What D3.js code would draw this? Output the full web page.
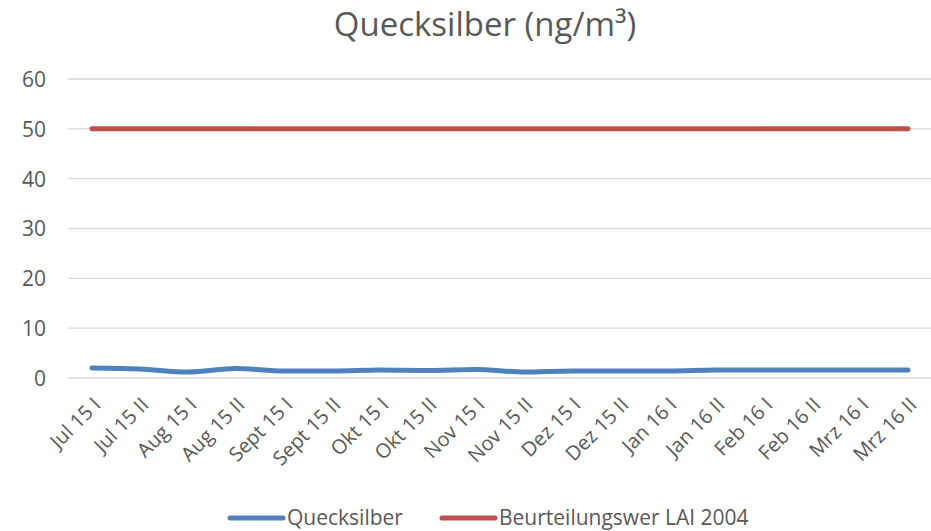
<!DOCTYPE html>
<html>
<head>
<meta charset="utf-8">
<script src="https://cdn.jsdelivr.net/npm/d3@7"></script>
<style>
  body { margin: 0; background: #fff; }
  svg text { font-family: "Open Sans", "Liberation Sans", sans-serif; fill: #595959; }
</style>
</head>
<body>
<script>
// chart data
const categories = ['Jul 15 I', 'Jul 15 II', 'Aug 15 I', 'Aug 15 II', 'Sept 15 I', 'Sept 15 II',
  'Okt 15 I', 'Okt 15 II', 'Nov 15 I', 'Nov 15 II', 'Dez 15 I', 'Dez 15 II',
  'Jan 16 I', 'Jan 16 II', 'Feb 16 I', 'Feb 16 II', 'Mrz 16 I', 'Mrz 16 II'];
const quecksilber = [2.0, 1.8, 1.2, 1.9, 1.4, 1.4, 1.6, 1.5, 1.7, 1.2, 1.4, 1.4, 1.4, 1.6, 1.6, 1.6, 1.6, 1.6];
const beurteilungswert = [50, 50, 50, 50, 50, 50, 50, 50, 50, 50, 50, 50, 50, 50, 50, 50, 50, 50];
const yTicks = [0, 10, 20, 30, 40, 50, 60];
const seriesNames = ['Quecksilber', 'Beurteilungswer LAI 2004'];
const title = 'Quecksilber (ng/m³)';

const w = 931;
const h = 531;
const plotLeft = 68, plotRight = 932, plotTop = 79, plotBottom = 378;

const svg = d3.select('body')
              .append('svg')
              .attr('width', w)
              .attr('height', h);

const xScale = d3.scaleBand()
                 .domain(categories)
                 .range([plotLeft, plotRight]);

const yScale = d3.scaleLinear()
                 .domain([0, 60])
                 .range([plotBottom, plotTop]);

// gridlines
svg.append('g')
   .selectAll('line')
   .data(yTicks)
   .enter()
   .append('line')
   .attr('x1', plotLeft)
   .attr('x2', plotRight)
   .attr('y1', d => yScale(d))
   .attr('y2', d => yScale(d))
   .attr('stroke', '#d9d9d9')
   .attr('stroke-width', 1.3);

// y axis labels
const yAxis = d3.axisLeft(yScale).tickValues(yTicks).tickSize(0).tickPadding(0);
const yG = svg.append('g')
   .attr('transform', 'translate(46,0)')
   .call(yAxis);
yG.select('.domain').remove();
yG.selectAll('text')
  .style('font-size', '21px')
  .attr('dy', '0.35em');

// x axis labels
const xAxis = d3.axisBottom(xScale).tickSize(0).tickPadding(0);
const xG = svg.append('g')
   .attr('transform', 'translate(0,' + plotBottom + ')')
   .call(xAxis);
xG.select('.domain').remove();
xG.selectAll('text')
  .style('font-size', '20px')
  .attr('text-anchor', 'end')
  .attr('dy', '0')
  .attr('transform', 'translate(10,28) rotate(-45)');

// lines
const line = d3.line()
               .x((d, i) => xScale(categories[i]) + xScale.bandwidth() / 2)
               .y(d => yScale(d))
               .curve(d3.curveMonotoneX);

const series = [
  { name: seriesNames[0], values: quecksilber, color: '#4f81bd' },
  { name: seriesNames[1], values: beurteilungswert, color: '#c0504d' }
];

series.forEach(s => {
  svg.append('path')
     .datum(s.values)
     .attr('fill', 'none')
     .attr('stroke', s.color)
     .attr('stroke-width', 5)
     .attr('stroke-linecap', 'round')
     .attr('d', line);
});

// title
svg.append('text')
   .attr('x', 485)
   .attr('y', 36)
   .attr('text-anchor', 'middle')
   .style('font-size', '33px')
   .text(title);

// legend
const legendX = [230, 442];
series.forEach((s, i) => {
  const g = svg.append('g').attr('transform', 'translate(' + legendX[i] + ',518)');
  g.append('line')
   .attr('x1', 0)
   .attr('x2', 53)
   .attr('stroke', s.color)
   .attr('stroke-width', 5)
   .attr('stroke-linecap', 'round');
  g.append('text')
   .attr('x', 57)
   .attr('dy', '0.35em')
   .style('font-size', '21px')
   .text(s.name);
});
</script>
</body>
</html>
